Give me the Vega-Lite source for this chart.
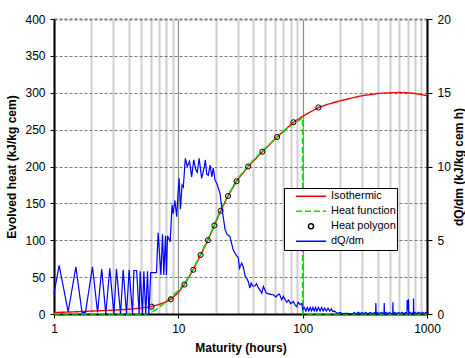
{
  "$schema": "https://vega.github.io/schema/vega-lite/v6.json",
  "width": 373,
  "height": 295,
  "autosize": {"type": "none"},
  "padding": {"left": 54, "top": 19, "right": 38, "bottom": 44},
  "background": "white",
  "config": {
    "view": {"stroke": null},
    "font": "Liberation Sans",
    "axis": {
      "labelFont": "Liberation Sans",
      "titleFont": "Liberation Sans",
      "labelFontSize": 12,
      "labelColor": "#000",
      "titleColor": "#000",
      "titleFontSize": 12,
      "titleFontWeight": "bold",
      "domainColor": "#000",
      "domainWidth": 2,
      "tickColor": "#000",
      "tickWidth": 1
    },
    "legend": {
      "title": null,
      "orient": "none",
      "legendX": 230,
      "legendY": 169,
      "clipHeight": 14.5,
      "rowPadding": 0,
      "padding": 1,
      "strokeColor": "#000",
      "fillColor": "#fff",
      "labelFont": "Liberation Sans",
      "labelFontSize": 11,
      "labelColor": "#000",
      "labelExpr": "datum.label + '\u00a0\u00a0\u00a0'",
      "symbolStrokeWidth": 1.5,
      "symbolOffset": 10,
      "labelOffset": 4
    }
  },
  "data": {
    "values": [
      {"s": "Isothermic", "m": 1, "v": 2},
      {"s": "Isothermic", "m": 1.5, "v": 3},
      {"s": "Isothermic", "m": 2, "v": 4},
      {"s": "Isothermic", "m": 3, "v": 5.2},
      {"s": "Isothermic", "m": 4, "v": 6.5},
      {"s": "Isothermic", "m": 5, "v": 8},
      {"s": "Isothermic", "m": 6, "v": 10},
      {"s": "Isothermic", "m": 7, "v": 13},
      {"s": "Isothermic", "m": 8, "v": 16.5},
      {"s": "Isothermic", "m": 8.7, "v": 20},
      {"s": "Isothermic", "m": 10, "v": 29},
      {"s": "Isothermic", "m": 11.2, "v": 40},
      {"s": "Isothermic", "m": 13.2, "v": 60},
      {"s": "Isothermic", "m": 15.1, "v": 80},
      {"s": "Isothermic", "m": 17.3, "v": 100},
      {"s": "Isothermic", "m": 19.5, "v": 120},
      {"s": "Isothermic", "m": 21.9, "v": 140},
      {"s": "Isothermic", "m": 25.1, "v": 160},
      {"s": "Isothermic", "m": 29.4, "v": 180},
      {"s": "Isothermic", "m": 36.4, "v": 200},
      {"s": "Isothermic", "m": 47.4, "v": 220},
      {"s": "Isothermic", "m": 62.3, "v": 240},
      {"s": "Isothermic", "m": 84.3, "v": 260},
      {"s": "Isothermic", "m": 100, "v": 268},
      {"s": "Isothermic", "m": 134, "v": 280},
      {"s": "Isothermic", "m": 160, "v": 284.5},
      {"s": "Isothermic", "m": 200, "v": 289},
      {"s": "Isothermic", "m": 250, "v": 293},
      {"s": "Isothermic", "m": 300, "v": 296},
      {"s": "Isothermic", "m": 400, "v": 299},
      {"s": "Isothermic", "m": 500, "v": 300},
      {"s": "Isothermic", "m": 600, "v": 300.3},
      {"s": "Isothermic", "m": 700, "v": 300},
      {"s": "Isothermic", "m": 800, "v": 299},
      {"s": "Isothermic", "m": 900, "v": 297.5},
      {"s": "Isothermic", "m": 1000, "v": 296},
      {"s": "Heat function", "m": 1, "v": 0},
      {"s": "Heat function", "m": 5.5, "v": 0},
      {"s": "Heat function", "m": 6, "v": 2},
      {"s": "Heat function", "m": 6.5, "v": 5},
      {"s": "Heat function", "m": 7, "v": 9},
      {"s": "Heat function", "m": 7.5, "v": 13},
      {"s": "Heat function", "m": 8, "v": 17},
      {"s": "Heat function", "m": 9, "v": 25},
      {"s": "Heat function", "m": 10, "v": 32},
      {"s": "Heat function", "m": 11.2, "v": 41},
      {"s": "Heat function", "m": 13.2, "v": 61},
      {"s": "Heat function", "m": 15.1, "v": 81},
      {"s": "Heat function", "m": 17.3, "v": 101},
      {"s": "Heat function", "m": 19.5, "v": 121},
      {"s": "Heat function", "m": 21.9, "v": 141},
      {"s": "Heat function", "m": 25.1, "v": 161},
      {"s": "Heat function", "m": 29.4, "v": 181},
      {"s": "Heat function", "m": 36.4, "v": 201},
      {"s": "Heat function", "m": 47.4, "v": 221},
      {"s": "Heat function", "m": 62.3, "v": 240},
      {"s": "Heat function", "m": 84.3, "v": 258},
      {"s": "Heat function", "m": 100, "v": 266},
      {"s": "Heat function", "m": 100, "v": 0},
      {"s": "Heat function", "m": 1000, "v": 0},
      {"s": "Heat polygon", "m": 6.1, "v": 10},
      {"s": "Heat polygon", "m": 8.7, "v": 20},
      {"s": "Heat polygon", "m": 11.2, "v": 40},
      {"s": "Heat polygon", "m": 13.2, "v": 60},
      {"s": "Heat polygon", "m": 15.1, "v": 80},
      {"s": "Heat polygon", "m": 17.3, "v": 100},
      {"s": "Heat polygon", "m": 19.5, "v": 120},
      {"s": "Heat polygon", "m": 21.9, "v": 140},
      {"s": "Heat polygon", "m": 25.1, "v": 160},
      {"s": "Heat polygon", "m": 29.4, "v": 180},
      {"s": "Heat polygon", "m": 36.4, "v": 200},
      {"s": "Heat polygon", "m": 47.4, "v": 220},
      {"s": "Heat polygon", "m": 62.3, "v": 240},
      {"s": "Heat polygon", "m": 84.3, "v": 260},
      {"s": "Heat polygon", "m": 134, "v": 280},
      {"s": "dQ/dm", "m": 1.0, "v": 1.4},
      {"s": "dQ/dm", "m": 1.1, "v": 3.3},
      {"s": "dQ/dm", "m": 1.3, "v": 0.15},
      {"s": "dQ/dm", "m": 1.5, "v": 3.2},
      {"s": "dQ/dm", "m": 1.68, "v": 0.1},
      {"s": "dQ/dm", "m": 1.79, "v": 0.1},
      {"s": "dQ/dm", "m": 2.04, "v": 3.2},
      {"s": "dQ/dm", "m": 2.24, "v": 0.1},
      {"s": "dQ/dm", "m": 2.42, "v": 3.05},
      {"s": "dQ/dm", "m": 2.61, "v": 0},
      {"s": "dQ/dm", "m": 2.81, "v": 3.1},
      {"s": "dQ/dm", "m": 3.03, "v": 0},
      {"s": "dQ/dm", "m": 3.18, "v": 3.05},
      {"s": "dQ/dm", "m": 3.43, "v": 0},
      {"s": "dQ/dm", "m": 3.6, "v": 3.0},
      {"s": "dQ/dm", "m": 3.83, "v": 0},
      {"s": "dQ/dm", "m": 4.02, "v": 3.0},
      {"s": "dQ/dm", "m": 4.28, "v": 0},
      {"s": "dQ/dm", "m": 4.39, "v": 2.95},
      {"s": "dQ/dm", "m": 4.62, "v": 2.95},
      {"s": "dQ/dm", "m": 4.84, "v": 0},
      {"s": "dQ/dm", "m": 4.93, "v": 2.9},
      {"s": "dQ/dm", "m": 5.15, "v": 0},
      {"s": "dQ/dm", "m": 5.28, "v": 2.9},
      {"s": "dQ/dm", "m": 5.47, "v": 0},
      {"s": "dQ/dm", "m": 5.65, "v": 2.9},
      {"s": "dQ/dm", "m": 5.79, "v": 0},
      {"s": "dQ/dm", "m": 6.0, "v": 2.8},
      {"s": "dQ/dm", "m": 6.67, "v": 2.8},
      {"s": "dQ/dm", "m": 6.88, "v": 5.5},
      {"s": "dQ/dm", "m": 7.24, "v": 2.65},
      {"s": "dQ/dm", "m": 7.46, "v": 5.4},
      {"s": "dQ/dm", "m": 7.64, "v": 2.65},
      {"s": "dQ/dm", "m": 7.88, "v": 5.3},
      {"s": "dQ/dm", "m": 8.02, "v": 2.65},
      {"s": "dQ/dm", "m": 8.18, "v": 5.3},
      {"s": "dQ/dm", "m": 8.6, "v": 4.9},
      {"s": "dQ/dm", "m": 8.9, "v": 7.4},
      {"s": "dQ/dm", "m": 9.07, "v": 6.8},
      {"s": "dQ/dm", "m": 9.38, "v": 7.7},
      {"s": "dQ/dm", "m": 9.7, "v": 6.6},
      {"s": "dQ/dm", "m": 9.97, "v": 8.3},
      {"s": "dQ/dm", "m": 10.15, "v": 9.2},
      {"s": "dQ/dm", "m": 10.4, "v": 7.1},
      {"s": "dQ/dm", "m": 10.7, "v": 8.75},
      {"s": "dQ/dm", "m": 10.97, "v": 8.6},
      {"s": "dQ/dm", "m": 11.38, "v": 10.55},
      {"s": "dQ/dm", "m": 11.8, "v": 10.0},
      {"s": "dQ/dm", "m": 12.3, "v": 10.35},
      {"s": "dQ/dm", "m": 12.8, "v": 9.3},
      {"s": "dQ/dm", "m": 13.3, "v": 10.45},
      {"s": "dQ/dm", "m": 13.8, "v": 9.8},
      {"s": "dQ/dm", "m": 14.2, "v": 9.6},
      {"s": "dQ/dm", "m": 14.7, "v": 10.55},
      {"s": "dQ/dm", "m": 15.4, "v": 9.2},
      {"s": "dQ/dm", "m": 16.1, "v": 9.9},
      {"s": "dQ/dm", "m": 16.5, "v": 10.45},
      {"s": "dQ/dm", "m": 16.9, "v": 9.5},
      {"s": "dQ/dm", "m": 17.4, "v": 9.4},
      {"s": "dQ/dm", "m": 18.0, "v": 10.1},
      {"s": "dQ/dm", "m": 18.6, "v": 9.3},
      {"s": "dQ/dm", "m": 19.1, "v": 9.9},
      {"s": "dQ/dm", "m": 19.7, "v": 9.1},
      {"s": "dQ/dm", "m": 20.5, "v": 8.8},
      {"s": "dQ/dm", "m": 21.6, "v": 8.2},
      {"s": "dQ/dm", "m": 22.7, "v": 6.85},
      {"s": "dQ/dm", "m": 23.8, "v": 5.7},
      {"s": "dQ/dm", "m": 24.7, "v": 5.4},
      {"s": "dQ/dm", "m": 26.0, "v": 5.25},
      {"s": "dQ/dm", "m": 27.6, "v": 4.35},
      {"s": "dQ/dm", "m": 29.4, "v": 3.95},
      {"s": "dQ/dm", "m": 30.4, "v": 3.8},
      {"s": "dQ/dm", "m": 31.0, "v": 3.1},
      {"s": "dQ/dm", "m": 32.3, "v": 3.45},
      {"s": "dQ/dm", "m": 33.3, "v": 3.2},
      {"s": "dQ/dm", "m": 34.5, "v": 2.55},
      {"s": "dQ/dm", "m": 35.6, "v": 2.4},
      {"s": "dQ/dm", "m": 36.5, "v": 2.2},
      {"s": "dQ/dm", "m": 37.6, "v": 1.76},
      {"s": "dQ/dm", "m": 38.5, "v": 2.1},
      {"s": "dQ/dm", "m": 39.5, "v": 1.9},
      {"s": "dQ/dm", "m": 41.3, "v": 1.9},
      {"s": "dQ/dm", "m": 42.5, "v": 2.05},
      {"s": "dQ/dm", "m": 44.2, "v": 1.75},
      {"s": "dQ/dm", "m": 45.5, "v": 1.6},
      {"s": "dQ/dm", "m": 46.9, "v": 1.4},
      {"s": "dQ/dm", "m": 48.3, "v": 1.87},
      {"s": "dQ/dm", "m": 50.9, "v": 1.42},
      {"s": "dQ/dm", "m": 54, "v": 1.35},
      {"s": "dQ/dm", "m": 58.2, "v": 1.3},
      {"s": "dQ/dm", "m": 61, "v": 1.15},
      {"s": "dQ/dm", "m": 63, "v": 1.3},
      {"s": "dQ/dm", "m": 65, "v": 1.35},
      {"s": "dQ/dm", "m": 67.8, "v": 0.97},
      {"s": "dQ/dm", "m": 70, "v": 1.2},
      {"s": "dQ/dm", "m": 72, "v": 1.0},
      {"s": "dQ/dm", "m": 74.5, "v": 0.8},
      {"s": "dQ/dm", "m": 77, "v": 0.95},
      {"s": "dQ/dm", "m": 80, "v": 0.7},
      {"s": "dQ/dm", "m": 84.3, "v": 0.85},
      {"s": "dQ/dm", "m": 87, "v": 0.6},
      {"s": "dQ/dm", "m": 89.6, "v": 0.5},
      {"s": "dQ/dm", "m": 92, "v": 0.8},
      {"s": "dQ/dm", "m": 95, "v": 0.65},
      {"s": "dQ/dm", "m": 98.4, "v": 0.7},
      {"s": "dQ/dm", "m": 100, "v": 0.3},
      {"s": "dQ/dm", "m": 103, "v": 0.45},
      {"s": "dQ/dm", "m": 106, "v": 0.2},
      {"s": "dQ/dm", "m": 109, "v": 0.45},
      {"s": "dQ/dm", "m": 112, "v": 0.2},
      {"s": "dQ/dm", "m": 115, "v": 0.45},
      {"s": "dQ/dm", "m": 118, "v": 0.2},
      {"s": "dQ/dm", "m": 121, "v": 0.45},
      {"s": "dQ/dm", "m": 124, "v": 0.2},
      {"s": "dQ/dm", "m": 127, "v": 0.45},
      {"s": "dQ/dm", "m": 130, "v": 0.2},
      {"s": "dQ/dm", "m": 134, "v": 0.45},
      {"s": "dQ/dm", "m": 138, "v": 0.2},
      {"s": "dQ/dm", "m": 142, "v": 0.45},
      {"s": "dQ/dm", "m": 146, "v": 0.2},
      {"s": "dQ/dm", "m": 150, "v": 0.4},
      {"s": "dQ/dm", "m": 155, "v": 0.2},
      {"s": "dQ/dm", "m": 160, "v": 0.4},
      {"s": "dQ/dm", "m": 165, "v": 0.2},
      {"s": "dQ/dm", "m": 170, "v": 0.35},
      {"s": "dQ/dm", "m": 175, "v": 0.15},
      {"s": "dQ/dm", "m": 180, "v": 0.2},
      {"s": "dQ/dm", "m": 190, "v": 0.05},
      {"s": "dQ/dm", "m": 200, "v": 0.1},
      {"s": "dQ/dm", "m": 210, "v": 0.02},
      {"s": "dQ/dm", "m": 225, "v": 0.05},
      {"s": "dQ/dm", "m": 250, "v": 0},
      {"s": "dQ/dm", "m": 260, "v": 0.1},
      {"s": "dQ/dm", "m": 270, "v": 0},
      {"s": "dQ/dm", "m": 280, "v": 0.12},
      {"s": "dQ/dm", "m": 290, "v": 0.02},
      {"s": "dQ/dm", "m": 300, "v": 0.1},
      {"s": "dQ/dm", "m": 310, "v": 0},
      {"s": "dQ/dm", "m": 320, "v": 0.12},
      {"s": "dQ/dm", "m": 335, "v": 0.02},
      {"s": "dQ/dm", "m": 350, "v": 0.1},
      {"s": "dQ/dm", "m": 365, "v": 0.02},
      {"s": "dQ/dm", "m": 380, "v": 0.1},
      {"s": "dQ/dm", "m": 386, "v": 0},
      {"s": "dQ/dm", "m": 388, "v": 0.75},
      {"s": "dQ/dm", "m": 390, "v": 0},
      {"s": "dQ/dm", "m": 400, "v": 0.1},
      {"s": "dQ/dm", "m": 415, "v": 0.02},
      {"s": "dQ/dm", "m": 430, "v": 0.12},
      {"s": "dQ/dm", "m": 445, "v": 0.02},
      {"s": "dQ/dm", "m": 451, "v": 0.1},
      {"s": "dQ/dm", "m": 453, "v": 0.75},
      {"s": "dQ/dm", "m": 455, "v": 0},
      {"s": "dQ/dm", "m": 470, "v": 0.12},
      {"s": "dQ/dm", "m": 485, "v": 0.02},
      {"s": "dQ/dm", "m": 500, "v": 0.1},
      {"s": "dQ/dm", "m": 515, "v": 0.02},
      {"s": "dQ/dm", "m": 530, "v": 0.05},
      {"s": "dQ/dm", "m": 532, "v": 0.8},
      {"s": "dQ/dm", "m": 534, "v": 0},
      {"s": "dQ/dm", "m": 550, "v": 0.12},
      {"s": "dQ/dm", "m": 570, "v": 0.02},
      {"s": "dQ/dm", "m": 590, "v": 0.1},
      {"s": "dQ/dm", "m": 610, "v": 0.02},
      {"s": "dQ/dm", "m": 630, "v": 0.12},
      {"s": "dQ/dm", "m": 650, "v": 0.02},
      {"s": "dQ/dm", "m": 670, "v": 0.1},
      {"s": "dQ/dm", "m": 690, "v": 0.05},
      {"s": "dQ/dm", "m": 693, "v": 0.95},
      {"s": "dQ/dm", "m": 697, "v": 0.3},
      {"s": "dQ/dm", "m": 705, "v": 0.4},
      {"s": "dQ/dm", "m": 710, "v": 1.0},
      {"s": "dQ/dm", "m": 713, "v": 0},
      {"s": "dQ/dm", "m": 730, "v": 0.12},
      {"s": "dQ/dm", "m": 750, "v": 0.02},
      {"s": "dQ/dm", "m": 770, "v": 0.1},
      {"s": "dQ/dm", "m": 777, "v": 0},
      {"s": "dQ/dm", "m": 779, "v": 1.05},
      {"s": "dQ/dm", "m": 781, "v": 0},
      {"s": "dQ/dm", "m": 800, "v": 0.12},
      {"s": "dQ/dm", "m": 830, "v": 0.02},
      {"s": "dQ/dm", "m": 860, "v": 0.12},
      {"s": "dQ/dm", "m": 890, "v": 0.02},
      {"s": "dQ/dm", "m": 920, "v": 0.12},
      {"s": "dQ/dm", "m": 950, "v": 0.02},
      {"s": "dQ/dm", "m": 980, "v": 0.12},
      {"s": "dQ/dm", "m": 1000, "v": 0.05}
    ]
  },
  "encoding": {
    "x": {
      "field": "m",
      "type": "quantitative",
      "scale": {"type": "log", "domain": [1, 1000], "nice": false},
      "axis": {
        "values": [1, 2, 3, 4, 5, 6, 7, 8, 9, 10, 20, 30, 40, 50, 60, 70, 80, 90, 100, 200, 300, 400, 500, 600, 700, 800, 900, 1000],
        "labelExpr": "(datum.value == 1 || datum.value == 10 || datum.value == 100 || datum.value == 1000) ? format(datum.value, 'd') : ''",
        "labelOverlap": false,
        "labelFlush": false,
        "grid": true,
        "gridColor": {"condition": {"test": "datum.value == 10 || datum.value == 100", "value": "#8c8c8c"}, "value": "#d0d0d0"},
        "gridWidth": {"condition": {"test": "datum.value == 10 || datum.value == 100", "value": 1.2}, "value": 2},
        "tickColor": {"condition": {"test": "datum.value == 1 || datum.value == 10 || datum.value == 100 || datum.value == 1000", "value": "#000"}, "value": "transparent"},
        "tickSize": 4,
        "labelPadding": 5,
        "title": "Maturity (hours)",
        "titlePadding": 8
      }
    },
    "order": {"value": null}
  },
  "layer": [
    {
      "encoding": {
        "y": {
          "field": "v",
          "type": "quantitative",
          "scale": {"domain": [0, 400], "nice": false},
          "axis": {
            "values": [0, 50, 100, 150, 200, 250, 300, 350, 400],
            "title": "Evolved heat (kJ/kg cem)",
            "grid": true,
            "gridColor": "#7a7a7a",
            "gridDash": [3, 2],
            "gridWidth": {"condition": {"test": "datum.value == 400", "value": 2}, "value": 1},
            "tickSize": 4,
            "labelPadding": 5,
            "titlePadding": 6
          }
        }
      },
      "layer": [
        {
          "transform": [{"filter": "datum.s == 'Isothermic'"}],
          "mark": {"type": "line", "strokeWidth": 1.4},
          "encoding": {
            "color": {"field": "s", "type": "nominal", "scale": {"domain": ["Isothermic", "Heat function", "Heat polygon", "dQ/dm"], "range": ["#ff0000", "#00e000", "#000000", "#0000ff"]}},
            "strokeDash": {"field": "s", "type": "nominal", "scale": {"domain": ["Isothermic", "Heat function", "Heat polygon", "dQ/dm"], "range": [[1, 0], [6, 3], [1, 0], [1, 0]]}}
          }
        },
        {
          "transform": [{"filter": "datum.s == 'Heat function'"}],
          "mark": {"type": "line", "strokeWidth": 1.6},
          "encoding": {
            "color": {"field": "s", "type": "nominal", "scale": {"domain": ["Isothermic", "Heat function", "Heat polygon", "dQ/dm"], "range": ["#ff0000", "#00e000", "#000000", "#0000ff"]}},
            "strokeDash": {"field": "s", "type": "nominal", "scale": {"domain": ["Isothermic", "Heat function", "Heat polygon", "dQ/dm"], "range": [[1, 0], [6, 3], [1, 0], [1, 0]]}}
          }
        },
        {
          "transform": [{"filter": "datum.s == 'Heat polygon'"}],
          "mark": {"type": "point", "filled": false, "strokeWidth": 1, "opacity": 1},
          "encoding": {
            "color": {"field": "s", "type": "nominal", "scale": {"domain": ["Isothermic", "Heat function", "Heat polygon", "dQ/dm"], "range": ["#ff0000", "#00e000", "#000000", "#0000ff"]}},
            "shape": {"field": "s", "type": "nominal", "scale": {"domain": ["Isothermic", "Heat function", "Heat polygon", "dQ/dm"], "range": ["stroke", "stroke", "circle", "stroke"]}},
            "size": {"field": "s", "type": "nominal", "scale": {"type": "ordinal", "domain": ["Isothermic", "Heat function", "Heat polygon", "dQ/dm"], "range": [900, 900, 26, 900]}}
          }
        }
      ]
    },
    {
      "transform": [{"filter": "datum.s == 'dQ/dm'"}],
      "mark": {"type": "line", "strokeWidth": 1.2},
      "encoding": {
        "y": {
          "field": "v",
          "type": "quantitative",
          "scale": {"domain": [0, 20], "nice": false},
          "axis": {
            "orient": "right",
            "values": [0, 5, 10, 15, 20],
            "grid": false,
            "title": "dQ/dm (kJ/kg cem h)",
            "titleAngle": 270,
            "titleBaseline": "top",
            "tickSize": 5,
            "labelPadding": 5,
            "titlePadding": 3
          }
        },
        "color": {"field": "s", "type": "nominal", "scale": {"domain": ["Isothermic", "Heat function", "Heat polygon", "dQ/dm"], "range": ["#ff0000", "#00e000", "#000000", "#0000ff"]}},
        "strokeDash": {"field": "s", "type": "nominal", "scale": {"domain": ["Isothermic", "Heat function", "Heat polygon", "dQ/dm"], "range": [[1, 0], [6, 3], [1, 0], [1, 0]]}}
      }
    }
  ],
  "resolve": {"scale": {"y": "independent"}}
}
